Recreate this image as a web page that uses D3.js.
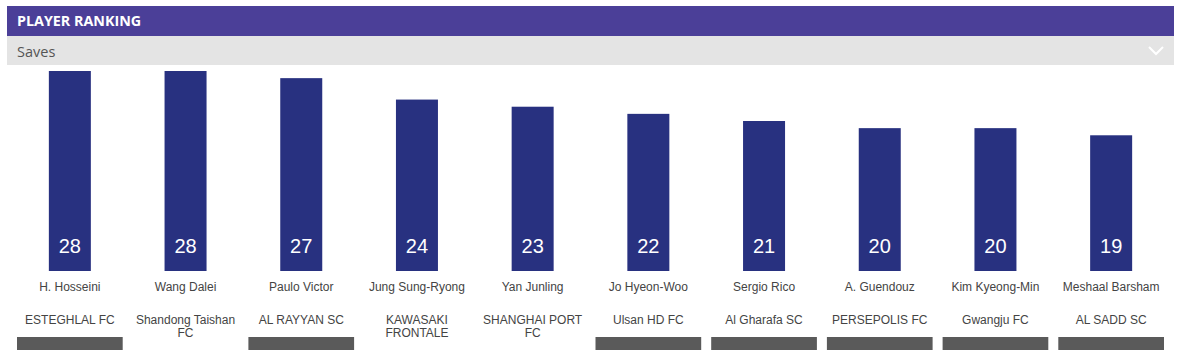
<html>
<head>
<meta charset="utf-8">
<script src="https://d3js.org/d3.v7.min.js"></script>
<style>
	body { margin: 0; background: #fff; }
	svg { display: block; }
</style>
</head>
<body>
<svg id="chart" width="1199" height="361"></svg>
<script>
// chart data
const players = ["H. Hosseini", "Wang Dalei", "Paulo Victor", "Jung Sung-Ryong", "Yan Junling",
	"Jo Hyeon-Woo", "Sergio Rico", "A. Guendouz", "Kim Kyeong-Min", "Meshaal Barsham"];
const clubs = [["ESTEGHLAL FC"], ["Shandong Taishan", "FC"], ["AL RAYYAN SC"], ["KAWASAKI", "FRONTALE"],
	["SHANGHAI PORT", "FC"], ["Ulsan HD FC"], ["Al Gharafa SC"], ["PERSEPOLIS FC"], ["Gwangju FC"], ["AL SADD SC"]];
const saves = [28, 28, 27, 24, 23, 22, 21, 20, 20, 19];
// which columns show the grey footer strip
const footer = [true, false, true, false, false, true, true, true, true, true];

const svg = d3.select("#chart");
const font = "'Liberation Sans', Arial, sans-serif";

// header
svg.append("rect").attr("x", 7).attr("y", 6).attr("width", 1167).attr("height", 30).attr("fill", "#4b3f98");
svg.append("text").attr("x", 17).attr("y", 26)
	.attr("font-family", "'Open Sans', Verdana, sans-serif").attr("font-weight", "bold")
	.attr("font-size", 14.3).attr("fill", "#fff").text("PLAYER RANKING");

svg.append("rect").attr("x", 7).attr("y", 36).attr("width", 1167).attr("height", 29).attr("fill", "#e4e4e4");
svg.append("text").attr("x", 17).attr("y", 56.5)
	.attr("font-family", "'Open Sans', sans-serif").attr("font-size", 14.5)
	.attr("fill", "#555").text("Saves");
svg.append("path").attr("d", "M1149,47 L1156,54 L1163,47")
	.attr("fill", "none").attr("stroke", "#fff").attr("stroke-width", 2);

// scales
const x = d3.scaleBand().domain(players).range([12, 1169]);
const y = d3.scaleLinear().domain([0, 28]).range([271, 71]);
const barW = 42;

const col = svg.selectAll("g.col").data(players).enter().append("g")
	.attr("class", "col")
	.attr("transform", d => "translate(" + x(d) + ",0)");

col.append("rect")
	.attr("x", x.bandwidth() / 2 - barW / 2)
	.attr("y", (d, i) => y(saves[i]))
	.attr("width", barW)
	.attr("height", (d, i) => y(0) - y(saves[i]))
	.attr("fill", "#283180");

col.append("text")
	.attr("x", x.bandwidth() / 2).attr("y", 253)
	.attr("text-anchor", "middle").attr("font-family", font)
	.attr("font-size", 20).attr("fill", "#fff")
	.text((d, i) => saves[i]);

col.append("text")
	.attr("x", x.bandwidth() / 2).attr("y", 291)
	.attr("text-anchor", "middle").attr("font-family", font)
	.attr("font-size", 12).attr("fill", "#444")
	.text(d => d);

col.each(function(d, i) {
	const t = d3.select(this).append("text")
		.attr("text-anchor", "middle").attr("font-family", font)
		.attr("font-size", 12).attr("fill", "#444");
	clubs[i].forEach((line, j) => {
		t.append("tspan").attr("x", x.bandwidth() / 2).attr("y", 324 + j * 12.5).text(line);
	});
	if (footer[i]) {
		d3.select(this).append("rect")
			.attr("x", 5).attr("y", 337)
			.attr("width", x.bandwidth() - 10).attr("height", 13)
			.attr("fill", "#5a5a5a");
	}
});
</script>
</body>
</html>
